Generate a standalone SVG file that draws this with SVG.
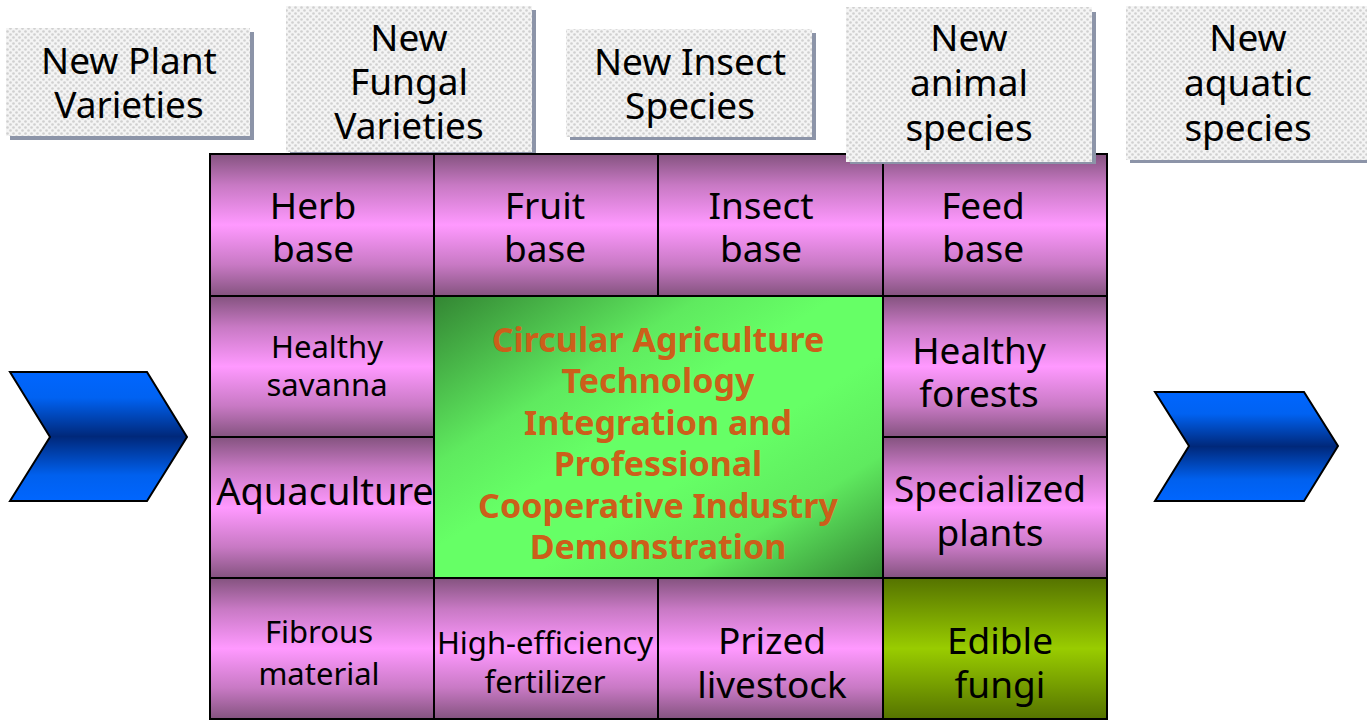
<svg xmlns="http://www.w3.org/2000/svg" width="1367" height="720" viewBox="0 0 1367 720">
<defs>
<pattern id="dots" width="6" height="6" patternUnits="userSpaceOnUse">
<rect width="6" height="6" fill="#f4f4f4"/>
<circle cx="1.5" cy="1.5" r="1.3" fill="#d0d0d0"/>
<circle cx="4.5" cy="4.5" r="1.3" fill="#d0d0d0"/>
</pattern>
<linearGradient id="pink" x1="0" y1="0" x2="0" y2="1">
<stop offset="0" stop-color="#84537f"/>
<stop offset="0.22" stop-color="#c879c4"/>
<stop offset="0.5" stop-color="#ff99ff"/>
<stop offset="0.78" stop-color="#c879c4"/>
<stop offset="1" stop-color="#84537f"/>
</linearGradient>
<linearGradient id="olive" x1="0" y1="0" x2="0" y2="1">
<stop offset="0" stop-color="#557300"/>
<stop offset="0.5" stop-color="#99cc00"/>
<stop offset="1" stop-color="#557300"/>
</linearGradient>
<linearGradient id="green" x1="0" y1="0" x2="1" y2="1">
<stop offset="0" stop-color="#338533"/>
<stop offset="0.3" stop-color="#5fea5f"/>
<stop offset="0.45" stop-color="#66ff66"/>
<stop offset="0.6" stop-color="#66ff66"/>
<stop offset="0.78" stop-color="#5fea5f"/>
<stop offset="1" stop-color="#338533"/>
</linearGradient>
<linearGradient id="blue" x1="0" y1="0" x2="0" y2="1">
<stop offset="0" stop-color="#0066ff"/>
<stop offset="0.2" stop-color="#0062f2"/>
<stop offset="0.5" stop-color="#00287a"/>
<stop offset="0.8" stop-color="#0060ee"/>
<stop offset="1" stop-color="#0066ff"/>
</linearGradient>
<style>
.t{font-family:"Noto Sans","Open Sans",sans-serif;fill:#000;text-anchor:middle}
.big{font-size:37px}
.mid{font-size:38px}
.sm{font-size:31px}
.ctr{font-family:"Noto Sans","Open Sans",sans-serif;font-weight:bold;font-size:34px;fill:#cc5f1a;text-anchor:middle}
.cell{fill:url(#pink);stroke:#000;stroke-width:2}
.tag{fill:url(#dots)}
.sh{fill:#8c94a8}
.chev{fill:url(#blue);stroke:#000;stroke-width:2;stroke-linejoin:miter}
</style>
</defs>

<g id="tag-plant">
<rect class="sh" x="10" y="32" width="244" height="108"/>
<rect class="tag" x="6" y="28" width="244" height="108"/>
<text class="t big"><tspan x="129" y="74">New Plant</tspan><tspan x="129" y="118">Varieties</tspan></text>
</g>
<g id="tag-fungal">
<rect class="sh" x="290" y="10" width="246" height="144"/>
<rect class="tag" x="286" y="6" width="246" height="146"/>
<text class="t big"><tspan x="409" y="51">New</tspan><tspan x="409" y="95">Fungal</tspan><tspan x="409" y="139">Varieties</tspan></text>
</g>
<g id="tag-insect">
<rect class="sh" x="570" y="33" width="246" height="107"/>
<rect class="tag" x="566" y="29" width="246" height="108"/>
<text class="t big"><tspan x="690" y="75">New Insect</tspan><tspan x="690" y="119">Species</tspan></text>
</g>

<g id="grid">
<g id="c-herb"><rect class="cell" x="210" y="154" width="224" height="142"/>
<text class="t big"><tspan x="313" y="219">Herb</tspan><tspan x="313" y="262">base</tspan></text></g>
<g id="c-fruit"><rect class="cell" x="434" y="154" width="224" height="142"/>
<text class="t big"><tspan x="545" y="219">Fruit</tspan><tspan x="545" y="262">base</tspan></text></g>
<g id="c-insect"><rect class="cell" x="658" y="154" width="225" height="142"/>
<text class="t big"><tspan x="761" y="219">Insect</tspan><tspan x="761" y="262">base</tspan></text></g>
<g id="c-feed"><rect class="cell" x="883" y="154" width="224" height="142"/>
<text class="t big"><tspan x="983" y="219">Feed</tspan><tspan x="983" y="262">base</tspan></text></g>

<g id="c-savanna"><rect class="cell" x="210" y="296" width="224" height="141"/>
<text class="t sm"><tspan x="327" y="358">Healthy</tspan><tspan x="327" y="396">savanna</tspan></text></g>
<g id="c-aqua"><rect class="cell" x="210" y="437" width="224" height="141"/>
<text class="t mid" x="325" y="505">Aquaculture</text></g>
<g id="c-forest"><rect class="cell" x="883" y="296" width="224" height="141"/>
<text class="t big"><tspan x="979" y="364">Healthy</tspan><tspan x="979" y="407">forests</tspan></text></g>
<g id="c-special"><rect class="cell" x="883" y="437" width="224" height="141"/>
<text class="t big"><tspan x="990" y="502">Specialized</tspan><tspan x="990" y="546">plants</tspan></text></g>

<g id="c-center"><rect x="434" y="296" width="449" height="282" fill="url(#green)" stroke="#000" stroke-width="2"/>
<text class="ctr"><tspan x="658" y="352">Circular Agriculture</tspan><tspan x="658" y="393">Technology</tspan><tspan x="658" y="435">Integration and</tspan><tspan x="658" y="476">Professional</tspan><tspan x="658" y="518">Cooperative Industry</tspan><tspan x="658" y="559">Demonstration</tspan></text></g>

<g id="c-fibrous"><rect class="cell" x="210" y="578" width="224" height="141"/>
<text class="t sm"><tspan x="319" y="643">Fibrous</tspan><tspan x="319" y="685">material</tspan></text></g>
<g id="c-fert"><rect class="cell" x="434" y="578" width="224" height="141"/>
<text class="t sm" font-size="32"><tspan x="545" y="654">High-efficiency</tspan><tspan x="545" y="693">fertilizer</tspan></text></g>
<g id="c-livestock"><rect class="cell" x="658" y="578" width="225" height="141"/>
<text class="t big"><tspan x="772" y="654">Prized</tspan><tspan x="772" y="698">livestock</tspan></text></g>
<g id="c-fungi"><rect x="883" y="578" width="224" height="141" fill="url(#olive)" stroke="#000" stroke-width="2"/>
<text class="t big"><tspan x="1000" y="654">Edible</tspan><tspan x="1000" y="698">fungi</tspan></text></g>
</g>

<g id="tag-animal">
<rect class="sh" x="850" y="12" width="246" height="152"/>
<rect class="tag" x="846" y="7" width="246" height="155"/>
<text class="t big"><tspan x="969" y="51">New</tspan><tspan x="969" y="96">animal</tspan><tspan x="969" y="141">species</tspan></text>
</g>
<g id="tag-aquatic">
<rect class="sh" x="1130" y="11" width="241" height="152"/>
<rect class="tag" x="1126" y="6" width="241" height="154"/>
<text class="t big"><tspan x="1248" y="51">New</tspan><tspan x="1248" y="96">aquatic</tspan><tspan x="1248" y="141">species</tspan></text>
</g>

<g id="connectors">
<polygon class="chev" points="10,372 147,372 187,437 147,501 10,501 50,437"/>
<polygon class="chev" points="1155,392 1304,392 1338,446 1304,501 1155,501 1189,446"/>
</g>
</svg>
